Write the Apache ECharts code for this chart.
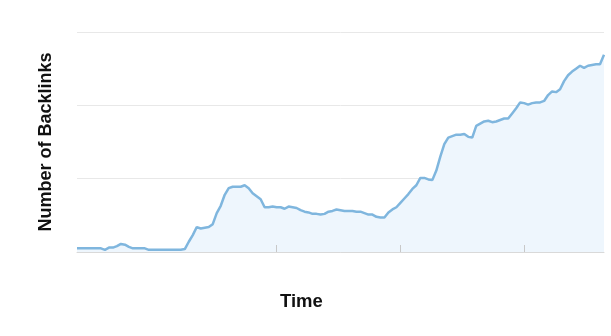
<!DOCTYPE html>
<html>
<head>
<meta charset="utf-8">
<script src="https://cdn.jsdelivr.net/npm/echarts@6/dist/echarts.min.js"></script>
<style>html,body{margin:0;padding:0;background:#fff}#c{width:611px;height:336px}</style>
</head>
<body>
<div id="c"></div>
<script>
// Time steps (index) and backlink counts
const backlinks = [
  5,5,5,5,5,5,5,3,6,6,8,11,10,7,5,5,5,5,3,3,
  3,3,3,3,3,3,3,4,14,23,34,32,33,34,38,53,63,78,87,89,
  89,89,91,87,80,76,72,61,61,62,61,61,59,62,61,60,57,55,54,52,
  52,51,52,55,56,58,57,56,56,56,55,55,53,51,51,48,47,47,54,58,
  61,67,73,79,86,91,101,101,99,98,111,130,147,156,158,160,160,161,157,156,
  172,175,178,179,177,178,180,182,182,189,196,204,203,201,203,204,204,206,214,219,
  218,222,233,241,246,250,254,251,254,255,256,256,269
];
const timeIdx = backlinks.map((_, i) => i);
const tickIdx = [50, 81, 112];
const yMax = 300, yStep = 100;
const yTitle = 'Number of Backlinks';
const xTitle = 'Time';

const chart = echarts.init(document.getElementById('c'), null, {renderer: 'canvas'});
chart.setOption({
  animation: false,
  backgroundColor: '#ffffff',
  grid: {left: 77, right: 7, top: 32, bottom: 84},
  xAxis: {
    type: 'category',
    data: timeIdx,
    boundaryGap: false,
    z: 5,
    axisLine: {lineStyle: {color: '#d9d9d9', width: 1}},
    axisTick: {show: true, inside: true, length: 7, lineStyle: {color: '#c8c8c8'},
      interval: (idx) => tickIdx.includes(idx)},
    axisLabel: {show: false},
    splitLine: {show: false}
  },
  yAxis: {
    type: 'value',
    min: 0, max: yMax, interval: yStep,
    name: yTitle,
    nameLocation: 'middle',
    nameGap: 22,
    nameTextStyle: {fontFamily: 'Liberation Sans', fontWeight: 'bold', fontSize: 18, color: '#111'},
    axisLine: {show: false},
    axisTick: {show: false},
    axisLabel: {show: false},
    splitLine: {lineStyle: {color: '#e8e8e8', width: 1}}
  },
  graphic: [{
    type: 'text', left: 280, top: 292,
    style: {text: xTitle, font: 'bold 18.5px "Liberation Sans"', fill: '#111'}
  }],
  series: [{
    type: 'line',
    data: backlinks,
    showSymbol: false,
    smooth: false,
    lineStyle: {color: '#7fb6de', width: 2.5},
    areaStyle: {color: '#eef6fd', opacity: 1}
  }]
});
</script>
</body>
</html>
